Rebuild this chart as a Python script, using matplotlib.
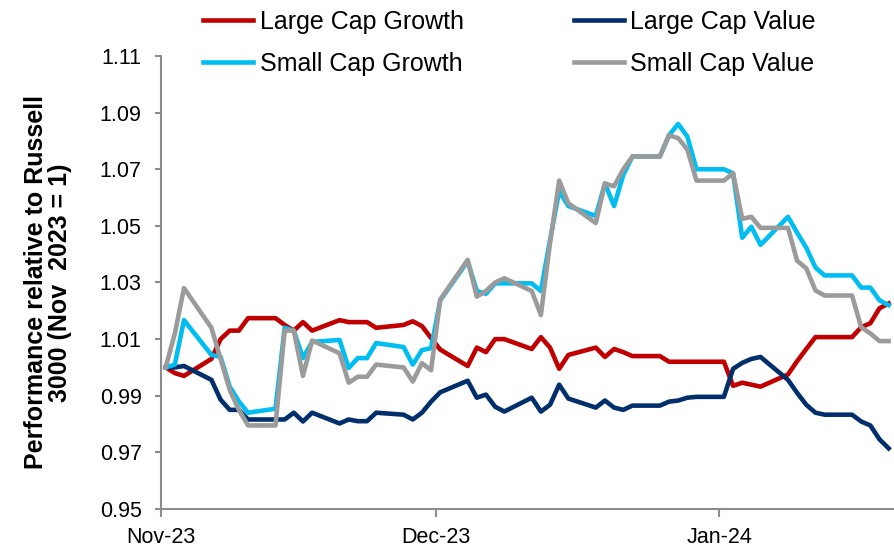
import matplotlib

matplotlib.use("Agg")
import matplotlib.pyplot as plt
import matplotlib.dates as mdates
import pandas as pd

# weekdays, holidays carried forward (Excel date axis)
dates = [
    "2023-11-01", "2023-11-02", "2023-11-03", "2023-11-06", "2023-11-07", "2023-11-08",
    "2023-11-09", "2023-11-10", "2023-11-13", "2023-11-14", "2023-11-15", "2023-11-16",
    "2023-11-17", "2023-11-20", "2023-11-21", "2023-11-22", "2023-11-23", "2023-11-24",
    "2023-11-27", "2023-11-28", "2023-11-29", "2023-11-30", "2023-12-01", "2023-12-04",
    "2023-12-05", "2023-12-06", "2023-12-07", "2023-12-08", "2023-12-11", "2023-12-12",
    "2023-12-13", "2023-12-14", "2023-12-15", "2023-12-18", "2023-12-19", "2023-12-20",
    "2023-12-21", "2023-12-22", "2023-12-25", "2023-12-26", "2023-12-27", "2023-12-28",
    "2023-12-29", "2024-01-01", "2024-01-02", "2024-01-03", "2024-01-04", "2024-01-05",
    "2024-01-08", "2024-01-09", "2024-01-10", "2024-01-11", "2024-01-12", "2024-01-15",
    "2024-01-16", "2024-01-17", "2024-01-18", "2024-01-19",
]

large_growth = [
    1.000, 0.998, 0.997, 1.003, 1.010, 1.013, 1.013, 1.0174, 1.0174, 1.015, 1.013, 1.016,
    1.013, 1.0167, 1.016, 1.016, 1.016, 1.014, 1.015, 1.0163, 1.0146, 1.0104, 1.0063, 1.0005,
    1.007, 1.0054, 1.010, 1.010, 1.0065, 1.0107, 1.007, 0.9995, 1.0044, 1.007, 1.0037, 1.0065,
    1.0054, 1.004, 1.004, 1.002, 1.002, 1.002, 1.002, 1.002, 0.9935, 0.9946, 0.9939, 0.9932,
    0.9975, 1.0022, 1.0065, 1.0107, 1.0107, 1.0107, 1.0142, 1.0156, 1.0209, 1.0226,
]
large_value = [
    1.000, 1.000, 1.0005, 0.9956, 0.9886, 0.985, 0.985, 0.9816, 0.9816, 0.9816, 0.984, 0.9809,
    0.984, 0.9802, 0.9816, 0.981, 0.981, 0.984, 0.9833, 0.9816, 0.984, 0.9879, 0.9912, 0.9953,
    0.9893, 0.9904, 0.9861, 0.9844, 0.9893, 0.9844, 0.9868, 0.9939, 0.989, 0.9858, 0.9883, 0.9858,
    0.985, 0.9865, 0.9865, 0.9879, 0.9883, 0.9893, 0.9896, 0.9896, 0.9995, 1.0016, 1.003, 1.0037,
    0.9956, 0.991, 0.9868, 0.984, 0.9833, 0.9833, 0.9809, 0.9795, 0.9746, 0.9714,
]
small_growth = [
    1.000, 1.001, 1.0167, 1.0044, 1.0037, 0.9932, 0.988, 0.984, 0.9854, 1.014, 1.013, 1.0033,
    1.009, 1.0097, 0.9998, 1.0033, 1.0033, 1.0086, 1.0072, 1.001, 1.0061, 1.0068, 1.0237, 1.0375,
    1.027, 1.026, 1.0297, 1.0297, 1.0297, 1.027, 1.045, 1.0623, 1.057, 1.0535, 1.065, 1.057,
    1.068, 1.0745, 1.0745, 1.082, 1.086, 1.0816, 1.070, 1.070, 1.0686, 1.0458, 1.0497, 1.0433,
    1.0532, 1.0476, 1.0423, 1.0353, 1.0325, 1.0325, 1.0282, 1.0282, 1.0237, 1.022,
]
small_value = [
    1.000, 1.012, 1.028, 1.014, 1.003, 0.992, 0.985, 0.9795, 0.9795, 1.013, 1.013, 0.997,
    1.0095, 1.005, 0.9946, 0.9967, 0.9967, 1.001, 1.000, 0.995, 1.0015, 0.999, 1.024, 1.038,
    1.025, 1.027, 1.030, 1.0315, 1.027, 1.0185, 1.044, 1.066, 1.058, 1.051, 1.065, 1.064,
    1.070, 1.0745, 1.0745, 1.082, 1.081, 1.077, 1.066, 1.066, 1.0686, 1.0525, 1.0532, 1.0493,
    1.0493, 1.0377, 1.035, 1.0272, 1.0254, 1.0254, 1.0142, 1.012, 1.0093, 1.0093,
]

series = [
    ("Large Cap Growth", large_growth, "#C00000"),
    ("Large Cap Value", large_value, "#002F6C"),
    ("Small Cap Growth", small_growth, "#00BEF2"),
    ("Small Cap Value", small_value, "#9B9B9B"),
]

plt.rcParams["font.family"] = ["Liberation Sans", "DejaVu Sans"]
axis_grey = "#8C8C8C"

# points sit mid-day, like Excel's "between tick marks" date axis
x = pd.to_datetime(dates) + pd.Timedelta(hours=12)

fig = plt.figure(figsize=(8.95, 5.55), dpi=100)
ax = fig.add_axes([0.180, 0.083, 0.818, 0.816])

lines = {}
for label, vals, color in series:
    (lines[label],) = ax.plot(x, vals, color=color, lw=3.3, label=label,
                              solid_joinstyle="round")

ax.set_xlim(pd.Timestamp("2023-11-01"), pd.Timestamp("2024-01-20"))
ax.set_ylim(0.95, 1.11)
ax.set_yticks([0.95, 0.97, 0.99, 1.01, 1.03, 1.05, 1.07, 1.09, 1.11])
ax.yaxis.set_major_formatter(matplotlib.ticker.FormatStrFormatter("%.2f"))
ax.set_xticks(pd.to_datetime(["2023-11-01", "2023-12-01", "2024-01-01"]))
ax.xaxis.set_major_formatter(mdates.DateFormatter("%b-%y"))

for side in ("top", "right"):
    ax.spines[side].set_visible(False)
for side in ("left", "bottom"):
    ax.spines[side].set_color(axis_grey)
    ax.spines[side].set_linewidth(1.5)
ax.tick_params(axis="y", colors=axis_grey, labelcolor="black", labelsize=15.5,
               length=4, width=1.5, pad=10)
ax.tick_params(axis="x", colors=axis_grey, labelcolor="black", labelsize=15.5,
               length=6, width=1.5, pad=7)

ax.set_ylabel("Performance relative to Russell\n3000 (Nov  2023 = 1)",
              fontsize=18, fontweight="bold", linespacing=1.0, labelpad=20)

# legend rows: growth/value pairs side by side (matplotlib fills by column)
order = ["Large Cap Growth", "Small Cap Growth", "Large Cap Value", "Small Cap Value"]
fig.legend([lines[k] for k in order], order, loc="upper left",
           bbox_to_anchor=(0.216, 1.0), ncol=2, frameon=False,
           fontsize=18, handlelength=2.0, handletextpad=0.25, columnspacing=4.4,
           labelspacing=0.72, borderaxespad=0.0)

fig.savefig("out.png", dpi=100)
